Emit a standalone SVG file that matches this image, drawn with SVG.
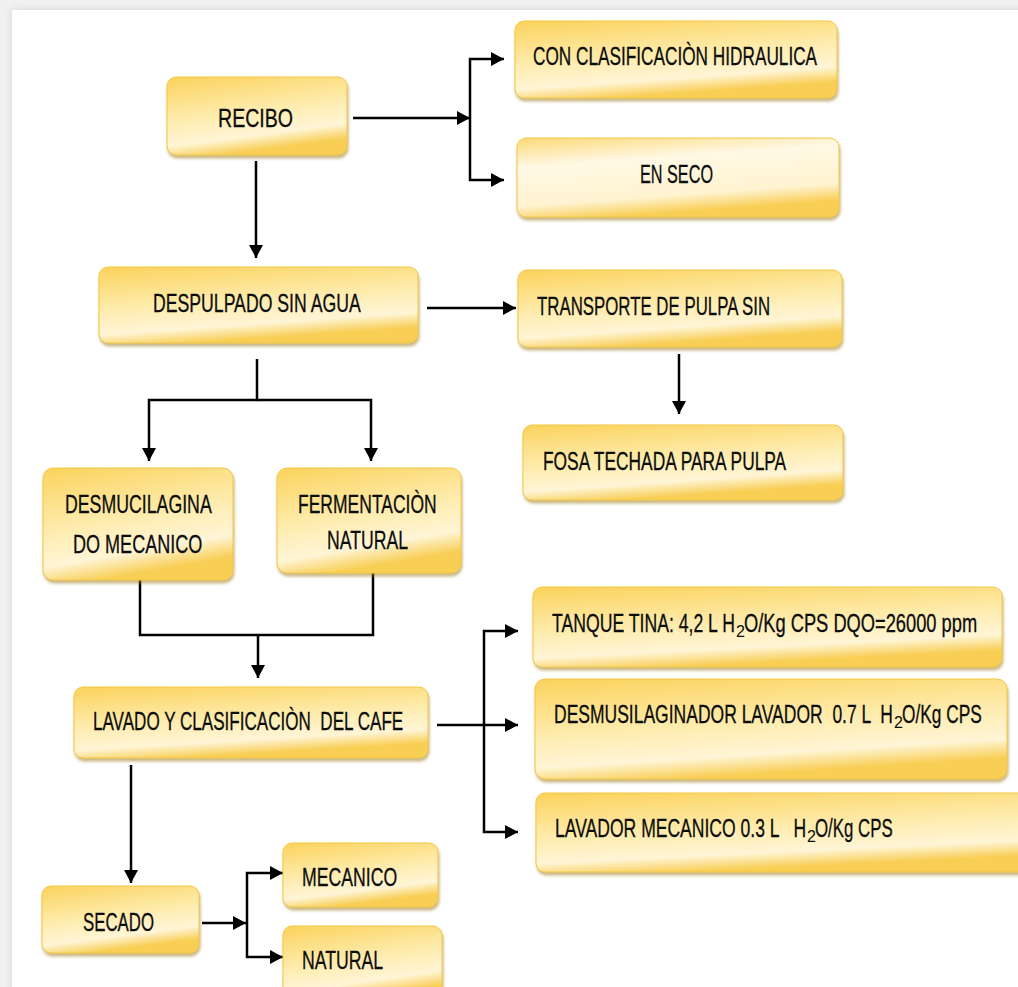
<svg xmlns="http://www.w3.org/2000/svg" width="1018" height="987" viewBox="0 0 1018 987">
<style>
.box{fill:url(#gold);stroke:#F3C744;stroke-width:1;filter:url(#sh)}
.boxl{fill:url(#goldl);stroke:#F3C744;stroke-width:1;filter:url(#sh)}
.t{font-family:"Liberation Sans",Arial,sans-serif;font-size:26px;fill:#0d0d0d;stroke:#0d0d0d;stroke-width:0.3}
.s{font-family:"Liberation Sans",Arial,sans-serif;font-size:16px;fill:#0d0d0d}
.c{fill:none;stroke:#000;stroke-width:2.5}
.a{marker-end:url(#ar)}
</style>
<defs>
<linearGradient id="gold" x1="0" y1="0" x2="0.3" y2="1">
<stop offset="0" stop-color="#FBD25B"/>
<stop offset="0.5" stop-color="#FEEBAA"/>
<stop offset="0.82" stop-color="#FFF5D6"/>
<stop offset="1" stop-color="#F8CE55"/>
</linearGradient>
<linearGradient id="goldl" x1="0" y1="0" x2="0.3" y2="1">
<stop offset="0" stop-color="#FCDA78"/>
<stop offset="0.35" stop-color="#FFF8E4"/>
<stop offset="0.8" stop-color="#FFF3D0"/>
<stop offset="1" stop-color="#F8CE55"/>
</linearGradient>
<filter id="sh" x="-5%" y="-10%" width="110%" height="130%">
<feDropShadow dx="1" dy="3" stdDeviation="1.5" flood-color="#9c7c1c" flood-opacity="0.55"/>
</filter>
<filter id="fr" x="-5%" y="-5%" width="110%" height="110%">
<feDropShadow dx="0" dy="0" stdDeviation="4" flood-color="#000" flood-opacity="0.12"/>
</filter>
<marker id="ar" markerUnits="userSpaceOnUse" markerWidth="14" markerHeight="14" refX="13" refY="7" orient="auto">
<path d="M0,0 L13,7 L0,14 z" fill="#000"/>
</marker>
</defs>
<rect x="0" y="0" width="1018" height="987" fill="#f1f1f1"/>
<rect x="12" y="10" width="1020" height="990" fill="#fff" filter="url(#fr)"/>

<g id="connectors">
<path class="c a" d="M353,118 H470"/>
<path class="c a" d="M470,118 V59 H504"/>
<path class="c a" d="M470,118 V180 H504"/>
<path class="c a" d="M256,161 V258"/>
<path class="c a" d="M427,308 H516"/>
<path class="c a" d="M679,354 V414"/>
<path class="c a" d="M257,359 V400 H149 V461"/>
<path class="c a" d="M257,400 H371 V461"/>
<path class="c" d="M140,580 V635 H373 V573"/>
<path class="c a" d="M258,635 V678"/>
<path class="c a" d="M437,725 H518"/>
<path class="c a" d="M484,725 V631 H518"/>
<path class="c a" d="M484,725 V832 H518"/>
<path class="c a" d="M131,765 V883"/>
<path class="c a" d="M202,923 H246"/>
<path class="c a" d="M247,923 V873 H283"/>
<path class="c a" d="M247,923 V957 H283"/>
</g>

<g id="recibo">
<rect class="box" x="167" y="77" width="180" height="78" rx="9"/>
<text class="t" transform="matrix(0.67,0,0,1,218,127)" font-size="30" textLength="112" lengthAdjust="spacingAndGlyphs">RECIBO</text>
</g>
<g id="con-clasificacion">
<rect class="box" x="515" y="21" width="322" height="77" rx="9"/>
<text class="t" transform="matrix(0.67,0,0,1,533,65)" textLength="424" lengthAdjust="spacingAndGlyphs">CON CLASIFICACIÒN HIDRAULICA</text>
</g>
<g id="en-seco">
<rect class="boxl" x="517" y="138" width="322" height="79" rx="9"/>
<text class="t" transform="matrix(0.67,0,0,1,640,183)" textLength="109" lengthAdjust="spacingAndGlyphs">EN SECO</text>
</g>
<g id="despulpado">
<rect class="box" x="99" y="267" width="319" height="76" rx="9"/>
<text class="t" transform="matrix(0.67,0,0,1,153,312)" textLength="310" lengthAdjust="spacingAndGlyphs">DESPULPADO SIN AGUA</text>
</g>
<g id="transporte">
<rect class="box" x="518" y="270" width="324" height="77" rx="9"/>
<text class="t" transform="matrix(0.67,0,0,1,537,315)" textLength="348" lengthAdjust="spacingAndGlyphs">TRANSPORTE DE PULPA SIN</text>
</g>
<g id="fosa">
<rect class="box" x="523" y="425" width="320" height="75" rx="9"/>
<text class="t" transform="matrix(0.67,0,0,1,543,470)" textLength="363" lengthAdjust="spacingAndGlyphs">FOSA TECHADA PARA PULPA</text>
</g>
<g id="desmucilaginado">
<rect class="box" x="43" y="468" width="190" height="112" rx="10"/>
<text class="t" transform="matrix(0.67,0,0,1,65,513)" textLength="219" lengthAdjust="spacingAndGlyphs">DESMUCILAGINA</text>
<text class="t" transform="matrix(0.67,0,0,1,73,553)" textLength="193" lengthAdjust="spacingAndGlyphs">DO MECANICO</text>
</g>
<g id="fermentacion">
<rect class="box" x="277" y="468" width="184" height="105" rx="10"/>
<text class="t" transform="matrix(0.67,0,0,1,298,513)" textLength="207" lengthAdjust="spacingAndGlyphs">FERMENTACIÒN</text>
<text class="t" transform="matrix(0.67,0,0,1,327,549)" textLength="121" lengthAdjust="spacingAndGlyphs">NATURAL</text>
</g>
<g id="lavado">
<rect class="box" x="74" y="687" width="354" height="71" rx="9"/>
<text class="t" transform="matrix(0.67,0,0,1,93,730)" textLength="463" lengthAdjust="spacingAndGlyphs" xml:space="preserve">LAVADO Y CLASIFICACIÒN  DEL CAFE</text>
</g>
<g id="tanque">
<rect class="box" x="533" y="587" width="469" height="80" rx="9"/>
<text class="t" transform="matrix(0.67,0,0,1,552,632)" textLength="273" lengthAdjust="spacingAndGlyphs">TANQUE TINA: 4,2 L H</text>
<text class="s" x="736" y="637">2</text>
<text class="t" transform="matrix(0.67,0,0,1,744,632)" textLength="348" lengthAdjust="spacingAndGlyphs">O/Kg CPS DQO=26000 ppm</text>
</g>
<g id="desmusilaginador">
<rect class="box" x="535" y="679" width="472" height="100" rx="10"/>
<text class="t" transform="matrix(0.67,0,0,1,554,723)" textLength="506" lengthAdjust="spacingAndGlyphs" xml:space="preserve">DESMUSILAGINADOR LAVADOR  0.7 L  H</text>
<text class="s" x="894" y="728">2</text>
<text class="t" transform="matrix(0.67,0,0,1,902,723)" textLength="119" lengthAdjust="spacingAndGlyphs">O/Kg CPS</text>
</g>
<g id="lavador-mecanico">
<rect class="box" x="536" y="793" width="494" height="79" rx="9"/>
<text class="t" transform="matrix(0.67,0,0,1,555,837)" textLength="375" lengthAdjust="spacingAndGlyphs" xml:space="preserve">LAVADOR MECANICO 0.3 L   H</text>
<text class="s" x="807" y="842">2</text>
<text class="t" transform="matrix(0.67,0,0,1,815,837)" textLength="116" lengthAdjust="spacingAndGlyphs">O/Kg CPS</text>
</g>
<g id="secado">
<rect class="box" x="42" y="886" width="157" height="67" rx="9"/>
<text class="t" transform="matrix(0.67,0,0,1,83,931)" textLength="106" lengthAdjust="spacingAndGlyphs">SECADO</text>
</g>
<g id="mecanico">
<rect class="box" x="283" y="843" width="155" height="64" rx="9"/>
<text class="t" transform="matrix(0.67,0,0,1,302,886)" textLength="142" lengthAdjust="spacingAndGlyphs">MECANICO</text>
</g>
<g id="natural">
<rect class="box" x="283" y="926" width="159" height="75" rx="9"/>
<text class="t" transform="matrix(0.67,0,0,1,302,969)" textLength="121" lengthAdjust="spacingAndGlyphs">NATURAL</text>
</g>
</svg>
